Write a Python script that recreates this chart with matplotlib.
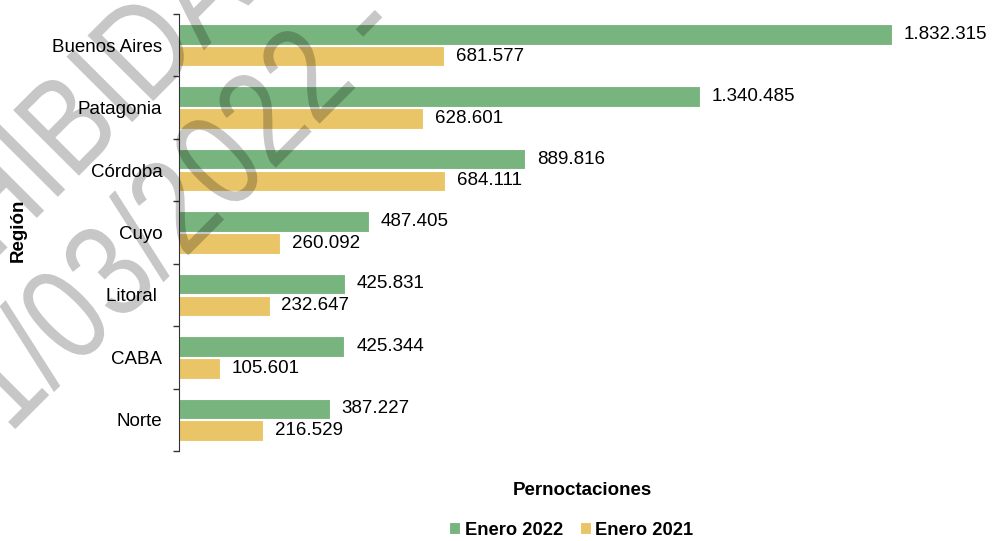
import matplotlib.pyplot as plt
import numpy as np
from matplotlib.textpath import TextPath
from matplotlib.patches import PathPatch
from matplotlib.font_manager import FontProperties
from matplotlib.transforms import Affine2D

plt.rcParams['font.family'] = ['Liberation Sans', 'DejaVu Sans']

regiones = ['Buenos Aires', 'Patagonia', 'Córdoba', 'Cuyo', 'Litoral ', 'CABA', 'Norte']
enero_2022 = [1832315, 1340485, 889816, 487405, 425831, 425344, 387227]
enero_2021 = [681577, 628601, 684111, 260092, 232647, 105601, 216529]
series = ['Enero 2022', 'Enero 2021']
colores = ['#78B47D', '#E9C567']

def fmt(v):
    return '{:,}'.format(v).replace(',', '.')

fig = plt.figure(figsize=(9.97, 5.41), dpi=100)
ax = fig.add_axes([0.1796, 0.1664, 0.78, 0.8077])

y = np.arange(len(regiones))
h = 0.33
b1 = ax.barh(y - 0.175, enero_2022, height=h, color=colores[0], edgecolor='white',
             linewidth=0.8, label=series[0])
b2 = ax.barh(y + 0.175, enero_2021, height=h, color=colores[1], edgecolor='white',
             linewidth=0.8, label=series[1])

for bars, vals in ((b1, enero_2022), (b2, enero_2021)):
    for r, v in zip(bars, vals):
        ax.annotate(fmt(v), (v, r.get_y() + r.get_height() / 2), xytext=(8.5, 0),
                    textcoords='offset points', va='center', ha='left', fontsize=13.5)

ax.set_xlim(0, 2000000)
ax.set_ylim(len(regiones) - 0.5, -0.5)
ax.set_yticks(y)
ax.set_yticklabels(regiones, fontsize=13.5)
ax.tick_params(axis='y', which='major', length=0, pad=12)
ax.set_yticks(np.arange(len(regiones) + 1) - 0.5, minor=True)
ax.tick_params(axis='y', which='minor', length=4.5, width=1, color='#333333')
ax.set_xticks([])
for s in ['top', 'right', 'bottom']:
    ax.spines[s].set_visible(False)
ax.spines['left'].set_color('#333333')

fig.text(0.584, 0.094, 'Pernoctaciones', ha='center', va='center', fontsize=13.5, fontweight='bold')
fig.text(0.018, 0.575, 'Región', ha='center', va='center', rotation=90, fontsize=13.5, fontweight='bold')

ax.legend(loc='center', bbox_to_anchor=(0.573, 0.02), bbox_transform=fig.transFigure,
          ncol=2, frameon=False, handlelength=0.6, handleheight=0.6, handletextpad=0.25,
          columnspacing=0.9, prop={'weight': 'bold', 'size': 13.2})

# marca de agua (texto estrecho y alto, en pixeles)
fp = FontProperties(family='Liberation Sans')
for texto, tx, ty in (('01/03/2022 -', 404, 502), ('PROHIBIDA', 256, 543)):
    tp = TextPath((0, 0), texto, size=100, prop=fp)
    x1 = tp.get_extents().x1
    tr = (Affine2D().translate(-x1, 0).scale(1.115, 1.35)
          .rotate_deg(45.1).translate(tx, ty))
    fig.add_artist(PathPatch(tp, transform=tr, facecolor='black', lw=0,
                             alpha=0.22, zorder=10))

fig.savefig('out.png', dpi=100)
